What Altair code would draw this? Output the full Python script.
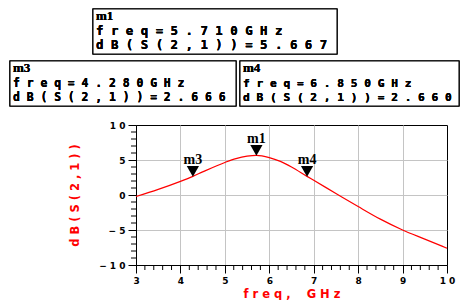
import altair as alt
import pandas as pd

# ---- data ----
freq_ghz = [3.0, 3.5, 4.0, 4.28, 4.5, 5.0, 5.25, 5.5, 5.71, 6.0, 6.25, 6.5, 6.85,
            7.0, 7.5, 8.0, 8.5, 9.0, 9.5, 10.0]
s21_db = [-0.22, 0.8, 1.95, 2.666, 3.3, 4.65, 5.2, 5.55, 5.667, 5.35, 4.8, 4.0, 2.66,
          2.1, 0.22, -1.65, -3.45, -5.0, -6.3, -7.6]

marker_names = ["m1", "m3", "m4"]
marker_freq = [5.71, 4.28, 6.85]
marker_db = [5.667, 2.666, 2.660]

x_ticks = [3, 4, 5, 6, 7, 8, 9, 10]
y_ticks = [-10, -5, 0, 5, 10]
x_minor = [round(3 + i * 0.2, 2) for i in range(36) if i % 5 != 0]
y_minor = [v for v in range(-10, 11) if v % 5 != 0]

x_title = "freq, GHz"
y_title = "dB(S(2,1))"


def spaced(s):
    # letter-spaced look of the reference; keep wide gaps where the source has a space
    return " ".join(s).replace("   ", " \u00a0\u00a0 ")


W, H = 311, 140
RED = "#ff0000"

curve_df = pd.DataFrame({"freq": freq_ghz, "db": s21_db})
mark_df = pd.DataFrame({"freq": marker_freq, "db": marker_db, "name": marker_names})

grid_color = {"condition": {"test": "datum.value == 3 || abs(datum.value) == 10",
                            "value": "transparent"}, "value": "#c4c4c4"}

common_axis = dict(
    tickSize=8, tickColor="black", domainColor="black", domainWidth=1,
    labelFont="DejaVu Sans", labelFontWeight="bold", labelFontSize=9, labelColor="black",
    labelOverlap=False, labelFlush=False,
    titleColor=RED, titleFont="DejaVu Sans", titleFontWeight="bold", titleFontSize=11.5,
    labelExpr="join(split(datum.label, ''), ' ')",
    grid=True, gridColor=grid_color, gridWidth=1,
)

x_enc = alt.X("freq:Q", scale=alt.Scale(domain=[3, 10], nice=False, zero=False),
              axis=alt.Axis(values=x_ticks, title=spaced(x_title), labelPadding=3,
                            titleY=32, titleBaseline="alphabetic", **common_axis))
y_enc = alt.Y("db:Q", scale=alt.Scale(domain=[-10, 10], nice=False, zero=False),
              axis=alt.Axis(values=y_ticks, title=spaced(y_title), labelPadding=3,
                            titleX=-61, titleY=H / 2, titleAngle=270, titleAlign="center",
                            titleBaseline="middle", **common_axis))

curve = alt.Chart(curve_df).mark_line(color=RED, strokeWidth=1.2, interpolate="monotone").encode(
    x=x_enc, y=y_enc)

xminor = alt.Chart(pd.DataFrame({"freq": x_minor})).mark_rule(color="black", strokeWidth=1).encode(
    x=x_enc, y=alt.value(H), y2=alt.value(H + 5))
yminor = alt.Chart(pd.DataFrame({"db": y_minor})).mark_rule(color="black", strokeWidth=1).encode(
    y=y_enc, x=alt.value(0), x2=alt.value(-5))

tri = alt.Chart(mark_df).mark_point(shape="triangle-down", filled=True, color="black",
                                     opacity=1, size=150, yOffset=-5).encode(
    x=x_enc, y=y_enc)
tri_lbl = alt.Chart(mark_df).mark_text(font="Liberation Serif", fontSize=14, fontWeight="bold",
                                        baseline="alphabetic", align="center", dy=-12,
                                        color="black").encode(
    x=x_enc, y=y_enc, text="name:N")

# annotation boxes (pixel layout relative to plot area)
box_layout = {
    "m1": dict(x0=-43, x1=201, y0=-116, y1=-71, fs=12.4),
    "m3": dict(x0=-126, x1=100, y0=-64, y1=-19, fs=11.4),
    "m4": dict(x0=104, x1=323, y0=-64, y1=-19, fs=11.2),
}
box_layers = []
for name, f, d in zip(marker_names, marker_freq, marker_db):
    b = box_layout[name]
    box_layers.append(alt.Chart(mark_df).mark_rect(fill="white", stroke="black", strokeWidth=1.1).encode(
        x=alt.value(b["x0"]), x2=alt.value(b["x1"]), y=alt.value(b["y0"]), y2=alt.value(b["y1"])))
    box_layers.append(alt.Chart(mark_df).mark_text(font="Liberation Serif", fontSize=13, fontWeight="bold",
                                                   align="left", baseline="alphabetic", color="black").encode(
        x=alt.value(b["x0"] + 3), y=alt.value(b["y0"] + 11), text=alt.value(name)))
    lines = [spaced(f"freq={f:.3f}GHz"), spaced(f"dB(S(2,1))={d:.3f}")]
    for k, t in enumerate(lines):
        box_layers.append(alt.Chart(mark_df).mark_text(font="DejaVu Sans Mono", fontSize=b["fs"],
                                                       fontWeight="bold", align="left",
                                                       baseline="alphabetic", color="black").encode(
            x=alt.value(b["x0"] + 3), y=alt.value(b["y0"] + 26 + 14 * k), text=alt.value(t)))

chart = alt.layer(curve, xminor, yminor, tri, tri_lbl, *box_layers).properties(
    width=W, height=H,
    padding={"left": 128, "top": 117, "right": 13, "bottom": 35},
    autosize=alt.AutoSizeParams(type="none"),
    background="white",
).configure_view(stroke="black", strokeWidth=1)

chart.save("out.html", embed_options={"renderer": "svg", "actions": False})
